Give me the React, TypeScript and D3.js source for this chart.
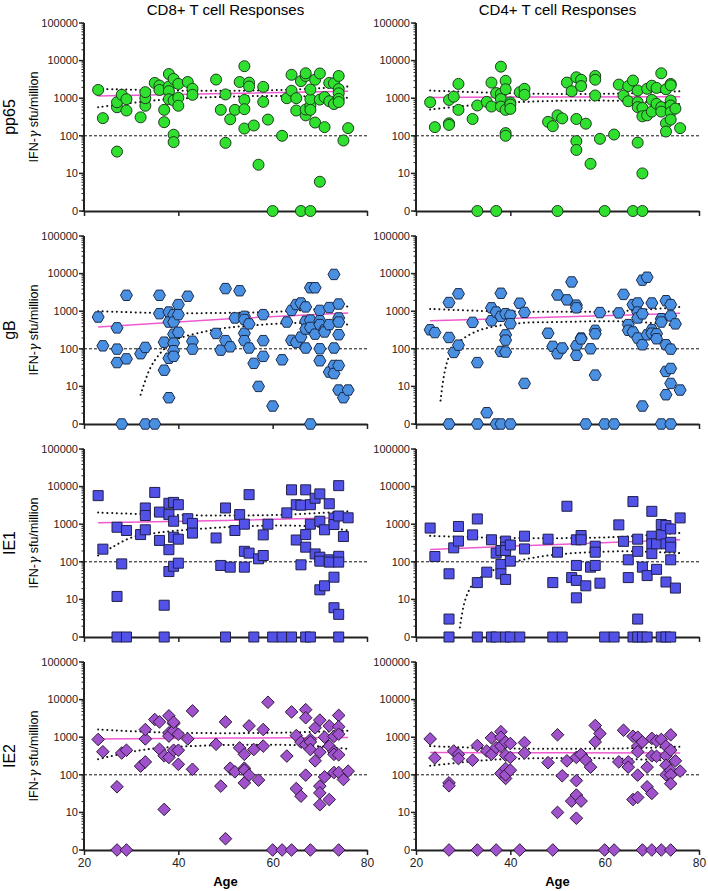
import React, { useEffect, useRef } from "react";
import * as d3 from "d3";

// ages x IFN-g sfu/million, 0 means "no response" and sits on the bottom line
type Pt = [number, number];

const columnTitles = ["CD8+ T cell Responses", "CD4+ T cell Responses"];
const rowLabels = ["pp65", "gB", "IE1", "IE2"];
const yTickValues = [0, 10, 100, 1000, 10000, 100000];
const xTickValues = [20, 40, 60, 80];

const pp65CD8: Pt[] = [
  [23, 1660], [24, 295], [27, 38], [27, 575], [27, 780], [28, 1230], [29, 940], [29, 470],
  [32, 310], [33, 630], [33, 1000], [33, 1450], [35, 2550], [36, 2170], [36, 1660], [37, 490],
  [37, 230], [38, 4400], [38, 2050], [38, 1540], [38, 940], [39, 3250], [39, 870], [39, 107],
  [39, 68], [40, 2400], [40, 1030], [40, 630], [42, 2700], [43, 1780], [43, 1230], [48, 3130],
  [49, 490], [50, 1260], [50, 65], [51, 275], [52, 490], [53, 2700], [54, 900], [54, 510],
  [54, 156], [54, 7100], [55, 2600], [55, 2050], [56, 188], [57, 17], [58, 2000], [58, 800],
  [59, 270], [60, 0], [62, 100], [63, 1000], [64, 1580], [64, 4200], [65, 470], [65, 1000],
  [66, 2850], [66, 0], [67, 3900], [67, 4600], [67, 350], [67, 500], [68, 0], [68, 630],
  [68, 940], [68, 1700], [68, 490], [69, 3100], [69, 225], [70, 4550], [70, 920], [70, 6],
  [71, 1070], [71, 170], [72, 2550], [72, 830], [73, 2500], [73, 700], [74, 3900], [74, 1750],
  [74, 1350], [74, 960], [74, 790], [75, 75], [76, 160],
];

const pp65CD4: Pt[] = [
  [23, 780], [24, 170], [27, 900], [27, 215], [27, 195], [28, 1100], [29, 2400], [29, 490],
  [32, 280], [33, 640], [33, 0], [35, 800], [36, 2600], [36, 600], [37, 1370], [37, 0],
  [38, 6900], [38, 1300], [38, 950], [38, 600], [39, 2900], [39, 1730], [39, 490], [39, 118],
  [39, 100], [40, 770], [40, 680], [40, 520], [42, 1450], [43, 1780], [43, 1230], [48, 235],
  [49, 180], [50, 350], [50, 0], [51, 290], [52, 2600], [53, 1530], [54, 3600], [54, 280],
  [54, 72], [54, 42], [55, 3100], [55, 2100], [56, 210], [57, 18], [58, 3900], [58, 3100],
  [58, 1180], [59, 83], [60, 0], [62, 108], [63, 2300], [64, 1180], [65, 2100], [65, 830],
  [66, 2950], [66, 0], [67, 1600], [67, 780], [67, 580], [67, 66], [68, 550], [68, 330],
  [68, 10], [68, 0], [69, 1780], [69, 350], [70, 2150], [70, 900], [70, 440], [71, 1880],
  [71, 710], [72, 4600], [72, 580], [72, 440], [73, 1730], [73, 215], [73, 130], [74, 2400],
  [74, 2200], [74, 870], [74, 640], [74, 425], [74, 270], [75, 530], [76, 160],
];

const gBCD8: Pt[] = [
  [23, 700], [24, 120], [27, 360], [27, 98], [27, 43], [28, 0], [29, 2650], [29, 54],
  [32, 74], [33, 109], [33, 0], [35, 0], [36, 2650], [36, 860], [37, 150], [37, 27],
  [38, 950], [38, 515], [38, 56], [38, 5], [39, 810], [39, 515], [39, 245], [39, 142],
  [39, 89], [39, 63], [40, 1500], [40, 810], [40, 275], [42, 2500], [43, 158], [43, 98],
  [48, 256], [49, 92], [50, 4000], [50, 165], [51, 113], [52, 660], [53, 3500], [54, 730],
  [54, 600], [54, 260], [54, 165], [55, 460], [55, 105], [56, 41], [57, 10], [58, 810],
  [58, 165], [58, 63], [60, 3], [62, 51], [63, 515], [64, 1050], [64, 168], [65, 1500],
  [65, 148], [66, 1650], [66, 205], [67, 1300], [67, 540], [67, 335], [67, 105], [68, 4200],
  [68, 580], [68, 370], [68, 0], [69, 4200], [69, 245], [70, 1050], [70, 560], [70, 440],
  [70, 100], [70, 48], [71, 320], [71, 280], [72, 1250], [72, 440], [72, 24], [73, 9500],
  [73, 105], [73, 36], [73, 22], [74, 1550], [74, 660], [74, 515], [74, 237], [74, 36],
  [74, 8], [75, 5], [76, 8],
];

const gBCD4: Pt[] = [
  [23, 320], [24, 270], [27, 1700], [27, 200], [27, 0], [28, 80], [29, 2900], [29, 125],
  [32, 505], [33, 43], [33, 0], [35, 2], [36, 1230], [36, 560], [37, 950], [37, 0],
  [38, 3000], [38, 730], [38, 85], [38, 0], [39, 860], [39, 235], [39, 170], [39, 82],
  [40, 780], [40, 465], [40, 0], [42, 1630], [43, 930], [43, 12], [48, 260], [49, 116],
  [50, 74], [50, 2700], [51, 105], [52, 2000], [53, 6000], [54, 1450], [54, 1230], [54, 120],
  [54, 67], [55, 193], [55, 183], [56, 0], [57, 100], [58, 310], [58, 250], [58, 20],
  [59, 920], [60, 0], [62, 0], [63, 900], [64, 2800], [65, 440], [65, 310], [66, 1500],
  [66, 280], [67, 1650], [67, 950], [67, 660], [67, 193], [68, 6700], [68, 850], [68, 128],
  [68, 3], [69, 8000], [69, 235], [70, 1650], [70, 320], [70, 260], [71, 250], [71, 185],
  [72, 630], [72, 515], [72, 0], [73, 1900], [73, 128], [73, 25], [73, 6], [74, 1500],
  [74, 750], [74, 98], [74, 30], [74, 12], [74, 0], [75, 460], [76, 8],
];

const ie1CD8: Pt[] = [
  [23, 5750], [24, 217], [27, 830], [27, 12], [27, 0], [28, 88], [29, 680], [29, 0],
  [32, 530], [33, 2700], [33, 1700], [33, 710], [35, 7000], [36, 2100], [36, 370], [37, 7],
  [37, 0], [38, 3600], [38, 1800], [38, 210], [38, 55], [39, 3800], [39, 1200], [39, 450],
  [39, 76], [40, 3300], [40, 400], [40, 92], [42, 1400], [43, 1050], [43, 580], [48, 430],
  [49, 80], [50, 2700], [50, 0], [51, 72], [52, 680], [53, 1800], [54, 1000], [54, 190],
  [54, 72], [55, 6100], [55, 170], [56, 0], [57, 120], [58, 520], [58, 147], [59, 1000],
  [60, 0], [62, 0], [63, 2000], [64, 8200], [64, 0], [65, 3300], [65, 380], [66, 3200],
  [66, 83], [67, 8200], [67, 530], [67, 245], [67, 0], [68, 3300], [68, 1000], [68, 0],
  [69, 4900], [69, 162], [70, 6400], [70, 1200], [70, 133], [70, 104], [70, 18], [71, 710],
  [71, 23], [72, 3500], [72, 113], [72, 98], [73, 1450], [73, 980], [73, 39], [73, 6],
  [74, 10600], [74, 1650], [74, 140], [74, 98], [74, 4], [74, 0], [75, 470], [76, 1480],
];

const ie1CD4: Pt[] = [
  [23, 790], [24, 138], [27, 48], [27, 3], [27, 0], [28, 235], [29, 870], [29, 355],
  [32, 520], [33, 1380], [33, 28], [33, 0], [35, 53], [36, 385], [36, 0], [37, 170],
  [37, 0], [38, 200], [38, 85], [38, 48], [39, 355], [39, 245], [39, 200], [39, 34],
  [39, 0], [40, 280], [40, 104], [40, 0], [42, 0], [43, 480], [43, 220], [48, 400],
  [49, 28], [49, 0], [50, 180], [51, 0], [52, 3000], [53, 38], [54, 385], [54, 80],
  [54, 32], [54, 11], [55, 500], [55, 385], [56, 23], [57, 72], [58, 260], [58, 180],
  [58, 80], [59, 27], [60, 0], [62, 0], [63, 960], [64, 350], [65, 113], [65, 38],
  [66, 4000], [66, 0], [67, 400], [67, 190], [67, 3], [67, 0], [68, 72], [68, 0],
  [69, 43], [69, 0], [70, 2200], [70, 480], [70, 300], [70, 165], [71, 300], [71, 63],
  [72, 980], [72, 520], [72, 0], [73, 920], [73, 300], [73, 29], [73, 0], [74, 750],
  [74, 330], [74, 245], [74, 113], [74, 0], [75, 20], [76, 1470],
];

const ie2CD8: Pt[] = [
  [23, 870], [24, 410], [27, 48], [27, 0], [28, 380], [29, 450], [29, 0], [32, 170],
  [33, 220], [33, 900], [33, 1600], [35, 2950], [36, 2550], [36, 480], [37, 320], [37, 12],
  [38, 3700], [38, 1300], [38, 1070], [38, 290], [39, 2300], [39, 1500], [39, 450], [39, 2500],
  [40, 1200], [40, 450], [40, 190], [42, 900], [43, 5000], [43, 140], [48, 650], [49, 50],
  [50, 2550], [50, 2], [51, 150], [52, 120], [53, 520], [54, 350], [54, 150], [54, 133],
  [54, 61], [55, 2000], [55, 98], [56, 470], [57, 72], [58, 580], [58, 1600], [59, 8500],
  [60, 0], [62, 0], [63, 315], [64, 4700], [64, 0], [65, 1100], [65, 43], [66, 740],
  [66, 27], [67, 5400], [67, 3300], [67, 640], [67, 98], [68, 870], [68, 750], [68, 470],
  [68, 0], [69, 235], [69, 1780], [70, 2850], [70, 400], [70, 50], [70, 33], [70, 16],
  [71, 1000], [71, 88], [72, 2000], [72, 580], [72, 22], [73, 1050], [73, 410], [73, 350],
  [73, 115], [74, 3800], [74, 1900], [74, 1200], [74, 340], [74, 115], [74, 0], [75, 75],
  [76, 125],
];

const ie2CD4: Pt[] = [
  [23, 900], [24, 280], [27, 61], [27, 51], [27, 0], [28, 430], [29, 350], [29, 270],
  [32, 245], [33, 600], [33, 0], [35, 430], [36, 960], [36, 350], [37, 530], [37, 0],
  [38, 1400], [38, 1000], [38, 580], [38, 108], [39, 740], [39, 330], [39, 147], [39, 80],
  [39, 100], [40, 680], [40, 290], [40, 133], [42, 0], [43, 720], [43, 380], [48, 210],
  [49, 0], [50, 1160], [50, 10], [51, 94], [52, 235], [53, 20], [54, 290], [54, 70],
  [54, 29], [54, 7], [55, 350], [55, 20], [56, 245], [57, 160], [58, 750], [58, 2050],
  [59, 1250], [60, 0], [62, 0], [63, 220], [64, 1530], [65, 220], [65, 160], [66, 1060],
  [66, 22], [67, 1000], [67, 580], [67, 410], [67, 98], [67, 25], [68, 750], [68, 0],
  [69, 160], [69, 48], [70, 930], [70, 320], [70, 32], [70, 0], [71, 800], [71, 310],
  [72, 870], [72, 0], [73, 580], [73, 320], [73, 180], [73, 100], [74, 1160], [74, 450],
  [74, 130], [74, 100], [74, 58], [74, 0], [75, 235], [76, 125],
];

// regression line and 95% band
const fitPp65CD8: Pt[] = [[23, 1150], [50, 1330], [76, 1530]];
const upperPp65CD8: Pt[] = [[23, 1770], [36, 1620], [50, 1570], [63, 1680], [76, 2040]];
const lowerPp65CD8: Pt[] = [[23, 575], [36, 900], [50, 1090], [63, 1150], [76, 1020]];

const fitPp65CD4: Pt[] = [[23, 1050], [50, 1080], [76, 1100]];
const upperPp65CD4: Pt[] = [[23, 1600], [36, 1400], [50, 1300], [63, 1330], [76, 1530]];
const lowerPp65CD4: Pt[] = [[23, 500], [36, 720], [50, 850], [63, 850], [76, 700]];

const fitGBCD8: Pt[] = [[23, 380], [50, 620], [76, 900]];
const upperGBCD8: Pt[] = [[23, 1000], [36, 900], [50, 900], [63, 1000], [76, 1350]];
const lowerGBCD8: Pt[] = [
  [32, 6], [34, 30], [36, 72], [38, 128], [40, 185], [45, 275], [50, 360], [56, 420],
  [63, 480], [70, 470], [76, 440],
];

const fitGBCD4: Pt[] = [[23, 560], [50, 700], [76, 880]];
const upperGBCD4: Pt[] = [[23, 1150], [36, 1000], [50, 960], [63, 1000], [76, 1300]];
const lowerGBCD4: Pt[] = [
  [25.2, 4.2], [26.1, 25], [27.2, 70], [29.3, 158], [32.8, 290], [37, 400], [42.7, 490],
  [50, 515], [60, 540], [68, 510], [76, 400],
];

const fitIE1CD8: Pt[] = [[23, 1100], [50, 1250], [76, 1500]];
const upperIE1CD8: Pt[] = [[23, 2040], [36, 1800], [50, 1700], [63, 1800], [76, 2200]];
const lowerIE1CD8: Pt[] = [
  [23, 147], [26, 245], [30, 440], [35, 580], [40, 680], [50, 830], [60, 920], [69, 870],
  [76, 680],
];

const fitIE1CD4: Pt[] = [[23, 213], [50, 290], [76, 385]];
const upperIE1CD4: Pt[] = [[23, 490], [36, 440], [50, 425], [63, 460], [76, 590]];
const lowerIE1CD4: Pt[] = [
  [29.3, 1.8], [30.4, 9.4], [32.1, 26], [35, 48], [37.8, 72], [40.6, 98], [44.8, 128],
  [50, 157], [56.8, 180], [66, 190], [76, 170],
];

const fitIE2CD8: Pt[] = [[23, 900], [50, 950], [76, 980]];
const upperIE2CD8: Pt[] = [[23, 1600], [36, 1350], [50, 1280], [63, 1330], [76, 1480]];
const lowerIE2CD8: Pt[] = [[23, 260], [33, 470], [48, 610], [65.7, 610], [76, 490]];

const fitIE2CD4: Pt[] = [[23, 390], [50, 385], [76, 380]];
const upperIE2CD4: Pt[] = [[23, 580], [36, 510], [50, 490], [63, 500], [76, 560]];
const lowerIE2CD4: Pt[] = [[23, 175], [36, 250], [50, 280], [63, 270], [76, 230]];

const panels = [
  { row: 0, col: 0, data: pp65CD8, fit: fitPp65CD8, upper: upperPp65CD8, lower: lowerPp65CD8 },
  { row: 0, col: 1, data: pp65CD4, fit: fitPp65CD4, upper: upperPp65CD4, lower: lowerPp65CD4 },
  { row: 1, col: 0, data: gBCD8, fit: fitGBCD8, upper: upperGBCD8, lower: lowerGBCD8 },
  { row: 1, col: 1, data: gBCD4, fit: fitGBCD4, upper: upperGBCD4, lower: lowerGBCD4 },
  { row: 2, col: 0, data: ie1CD8, fit: fitIE1CD8, upper: upperIE1CD8, lower: lowerIE1CD8 },
  { row: 2, col: 1, data: ie1CD4, fit: fitIE1CD4, upper: upperIE1CD4, lower: lowerIE1CD4 },
  { row: 3, col: 0, data: ie2CD8, fit: fitIE2CD8, upper: upperIE2CD8, lower: lowerIE2CD8 },
  { row: 3, col: 1, data: ie2CD4, fit: fitIE2CD4, upper: upperIE2CD4, lower: lowerIE2CD4 },
];

const markerFill = ["#2fe02f", "#4a90e2", "#5252e8", "#a052cc"];
const markerStroke = ["#1d3d1d", "#1b2b4a", "#20204a", "#2e1a3a"];
const pink = "#ee5ad0";
const font = "'Liberation Sans', Arial, sans-serif";

// marker shapes per row: circle, hexagon, square, diamond
const markerPath = (row: number) => {
  if (row === 0) {
    const p = d3.path();
    p.arc(0, 0, 5.5, 0, Math.PI * 2);
    return p.toString();
  }
  if (row === 1) {
    const r = 6;
    const pts = d3.range(6).map((i) => [r * Math.cos((i * Math.PI) / 3), r * Math.sin((i * Math.PI) / 3)]);
    return "M" + pts.map((p) => p.join(",")).join("L") + "Z";
  }
  if (row === 2) return "M-5,-5L5,-5L5,5L-5,5Z";
  return "M0,-6.3L6.3,0L0,6.3L-6.3,0Z";
};

const App = () => {
  const ref = useRef<SVGSVGElement>(null);

  useEffect(() => {
    const svg = d3.select(ref.current);
    svg.selectAll("*").remove();

    const colX = [84, 416];
    const plotW = 283;

    columnTitles.forEach((t, i) => {
      svg
        .append("text")
        .attr("x", colX[i] + plotW / 2)
        .attr("y", 15)
        .attr("text-anchor", "middle")
        .style("font-family", font)
        .style("font-size", "15px")
        .text(t);
    });

    panels.forEach((pn) => {
      const top = 23 + 213 * pn.row;
      const bottom = top + 188;
      const x = d3.scaleLinear().domain([20, 80]).range([colX[pn.col], colX[pn.col] + plotW]);
      const y = d3.scaleLog().domain([1, 100000]).range([bottom, top]);
      const yv = (v: number) => y(Math.max(v, 1));
      const g = svg.append("g");

      // y axis with log minor ticks
      const yAxis = d3
        .axisLeft(y)
        .tickValues(y.ticks())
        .tickSize(2.5)
        .tickFormat(() => "");
      const ya = g.append("g").attr("transform", `translate(${colX[pn.col]},0)`).call(yAxis);
      ya.select(".domain").remove();
      ya.selectAll("line").attr("stroke", "#222").attr("stroke-width", 1);

      yTickValues.forEach((v) => {
        const yy = yv(v);
        g.append("line")
          .attr("x1", colX[pn.col] - 5)
          .attr("x2", colX[pn.col])
          .attr("y1", yy)
          .attr("y2", yy)
          .attr("stroke", "#222")
          .attr("stroke-width", 1.5);
        g.append("text")
          .attr("x", colX[pn.col] - 6)
          .attr("y", yy)
          .attr("dy", "0.35em")
          .attr("text-anchor", "end")
          .style("font-family", font)
          .style("font-size", "11px")
          .attr("fill", "#222")
          .text(String(v));
      });
      g.append("line")
        .attr("x1", colX[pn.col])
        .attr("x2", colX[pn.col])
        .attr("y1", top)
        .attr("y2", bottom)
        .attr("stroke", "#222")
        .attr("stroke-width", 2);

      // x axis
      const xAxis = d3
        .axisBottom(x)
        .tickValues(xTickValues)
        .tickSize(5)
        .tickSizeOuter(0)
        .tickFormat((d: any) => (pn.row === 3 ? String(d) : ""));
      const xa = g.append("g").attr("transform", `translate(0,${bottom})`).call(xAxis);
      xa.select(".domain").attr("stroke", "#222").attr("stroke-width", 2);
      xa.selectAll("line").attr("stroke", "#222").attr("stroke-width", 1.5);
      xa.selectAll("text")
        .style("font-family", font)
        .style("font-size", "12px")
        .attr("fill", "#222");

      // reference line at 100
      g.append("line")
        .attr("x1", x(20))
        .attr("x2", x(80))
        .attr("y1", y(100))
        .attr("y2", y(100))
        .attr("stroke", "#111")
        .attr("stroke-width", 1)
        .attr("stroke-dasharray", "3,2");

      const line = d3
        .line<Pt>()
        .x((d) => x(d[0]))
        .y((d) => yv(d[1]))
        .curve(d3.curveMonotoneX);

      [pn.upper, pn.lower].forEach((band) => {
        g.append("path")
          .attr("d", line.curve(d3.curveCatmullRom)(band))
          .attr("fill", "none")
          .attr("stroke", "#111")
          .attr("stroke-width", 2)
          .attr("stroke-linecap", "round")
          .attr("stroke-dasharray", "0.1,4.6");
      });
      g.append("path")
        .attr("d", line.curve(d3.curveMonotoneX)(pn.fit))
        .attr("fill", "none")
        .attr("stroke", pink)
        .attr("stroke-width", 1.5);

      g.selectAll("path.pt")
        .data(pn.data)
        .join("path")
        .attr("class", "pt")
        .attr("d", markerPath(pn.row))
        .attr("transform", (d) => `translate(${x(d[0])},${yv(d[1])})`)
        .attr("fill", markerFill[pn.row])
        .attr("stroke", markerStroke[pn.row])
        .attr("stroke-width", 1);

      if (pn.col === 0) {
        const cy = (top + bottom) / 2;
        g.append("text")
          .attr("transform", `translate(14.5,${cy}) rotate(-90)`)
          .attr("text-anchor", "middle")
          .style("font-family", font)
          .style("font-size", "16px")
          .text(rowLabels[pn.row]);
        const lab = g
          .append("text")
          .attr("transform", `translate(38,${cy}) rotate(-90)`)
          .attr("text-anchor", "middle")
          .style("font-family", font)
          .style("font-size", "12.5px");
        lab.append("tspan").text("IFN-");
        lab.append("tspan").style("font-style", "italic").style("font-family", "'DejaVu Serif', serif").text("γ");
        lab.append("tspan").text(" sfu/million");
      }

      if (pn.row === 3) {
        g.append("text")
          .attr("x", colX[pn.col] + plotW / 2)
          .attr("y", 886)
          .attr("text-anchor", "middle")
          .style("font-family", font)
          .style("font-size", "13px")
          .style("font-weight", "bold")
          .text("Age");
      }
    });
  }, []);

  return (
    <div style={{ position: "absolute", left: 0, top: 0, background: "#fff" }}>
      <svg ref={ref} width={708} height={891} style={{ display: "block" }}></svg>
    </div>
  );
};

export default App;
